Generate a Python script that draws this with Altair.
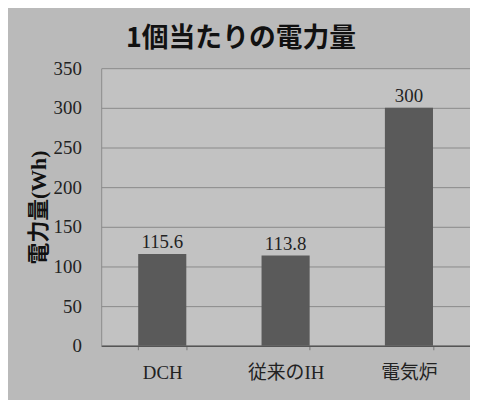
import altair as alt
import pandas as pd

categories = ["DCH", "従来のIH", "電気炉"]
values = [115.6, 113.8, 300]
labels = ["115.6", "113.8", "300"]
y_ticks = [0, 50, 100, 150, 200, 250, 300, 350]

df = pd.DataFrame({"cat": categories, "val": values, "lab": labels})

SERIF = "Liberation Serif, Noto Sans CJK JP"
BG = "#bababa"

base = alt.Chart(df).encode(
    x=alt.X("cat:N", sort=categories,
            scale=alt.Scale(paddingInner=0.61, paddingOuter=0.3),
            axis=alt.Axis(title=None, labelAngle=0, labelFont=SERIF, labelFontSize=19,
                          labelColor="#222", labelPadding=14, domainColor="#555",
                          domainWidth=1.5, ticks=True, tickBand="extent", tickSize=4,
                          tickColor="#777", grid=False)),
    y=alt.Y("val:Q", scale=alt.Scale(domain=[0, 350]),
            axis=alt.Axis(title="電力量(Wh)", titleFont=SERIF, titleFontSize=22,
                          titleFontWeight="bold", titleColor="#111111", titlePadding=3,
                          values=y_ticks, labelOverlap=False, labelFont=SERIF, labelFontSize=19,
                          labelColor="#222", labelPadding=20, ticks=False,
                          domainColor="#8a8a8a", gridColor="#8a8a8a", gridWidth=1)),
)

bars = base.mark_bar(color="#5a5a5a")
text = base.mark_text(font=SERIF, fontSize=19, color="#222", dy=-12).encode(text="lab:N")

chart = alt.layer(bars, text).properties(
    width=372, height=280,
    autosize=alt.AutoSizeParams(type="none"),
    padding={"left": 94, "top": 59, "right": 0, "bottom": 53},
    background=BG,
    title=alt.TitleParams("1個当たりの電力量", font="Noto Sans CJK JP", fontSize=27,
                          fontWeight="bold", color="#111111", anchor="middle", dx=-45, offset=6),
).configure_view(stroke=None, fill="#c2c2c2")

chart.save("out.html", embed_options={"renderer": "svg", "actions": False})
